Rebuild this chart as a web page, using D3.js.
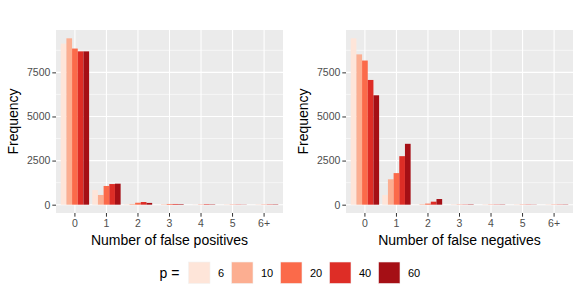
<!DOCTYPE html>
<meta charset="utf-8">
<script src="https://d3js.org/d3.v7.min.js"></script>
<style>
  body { margin: 0; background: #fff; }
  text { font-family: "Liberation Sans", Arial, sans-serif; }
</style>
<div id="my_dataviz"></div>
<script>
// categories and series
var counts = ["0", "1", "2", "3", "4", "5", "6+"];
var pValues = ["6", "10", "20", "40", "60"];
var colors = ["#FEE5D9", "#FCAE91", "#FB6A4A", "#DE2D26", "#A50F15"];

// frequencies, one array per p (order follows counts)
var falsePos = {
  "6":  [9130, 830, 30, 5, 0, 5, 5],
  "10": [9430, 550, 40, 20, 5, 10, 10],
  "20": [8850, 1060, 110, 40, 15, 15, 15],
  "40": [8690, 1170, 150, 40, 30, 15, 20],
  "60": [8690, 1190, 100, 30, 20, 10, 20]
};
var falseNeg = {
  "6":  [9430, 550, 10, 5, 0, 5, 5],
  "10": [8520, 1440, 30, 10, 10, 10, 10],
  "20": [8170, 1790, 60, 15, 15, 15, 15],
  "40": [7070, 2750, 170, 15, 15, 15, 15],
  "60": [6200, 3450, 320, 20, 15, 10, 15]
};
var yTicks = [0, 2500, 5000, 7500];

var W = 581, H = 291;
var top_ = 30, bottom_ = 213;

var svg = d3.select("#my_dataviz")
  .append("svg")
    .attr("width", W)
    .attr("height", H);

var allVals = [];
pValues.forEach(function(p) { allVals = allVals.concat(falsePos[p], falseNeg[p]); });
var ymax = d3.max(allVals);
var y = d3.scaleLinear()
    .domain([-0.05 * ymax, ymax * 1.05])
    .range([bottom_, top_]);

var color = d3.scaleOrdinal().domain(pValues).range(colors);

function panel(x0, x1, data, title) {
  var g = svg.append("g");

  var x = d3.scaleBand()
      .domain(counts)
      .range([x0, x1])
      .paddingInner(0)
      .paddingOuter(0.1);

  var xs = d3.scaleBand()
      .domain(pValues)
      .range([x.bandwidth() * 0.05, x.bandwidth() * 0.95]);

  // background
  g.append("rect")
    .attr("x", x0).attr("y", top_)
    .attr("width", x1 - x0).attr("height", bottom_ - top_)
    .attr("fill", "#EBEBEB");

  // minor grid
  var minor = [];
  for (var i = 0; i < yTicks.length; i++) minor.push(yTicks[i] + 1250);
  g.append("g").selectAll("line")
    .data(minor.filter(function(v) { return y(v) > top_; }))
    .enter().append("line")
      .attr("x1", x0).attr("x2", x1)
      .attr("y1", function(d) { return y(d); })
      .attr("y2", function(d) { return y(d); })
      .attr("stroke", "#fff").attr("stroke-width", 0.55);

  // major grid
  g.append("g").selectAll("line")
    .data(yTicks)
    .enter().append("line")
      .attr("x1", x0).attr("x2", x1)
      .attr("y1", function(d) { return y(d); })
      .attr("y2", function(d) { return y(d); })
      .attr("stroke", "#fff").attr("stroke-width", 1.1);
  g.append("g").selectAll("line")
    .data(counts)
    .enter().append("line")
      .attr("y1", top_).attr("y2", bottom_)
      .attr("x1", function(d) { return x(d) + x.bandwidth() / 2; })
      .attr("x2", function(d) { return x(d) + x.bandwidth() / 2; })
      .attr("stroke", "#fff").attr("stroke-width", 1.1);

  // bars
  var rows = [];
  pValues.forEach(function(p) {
    counts.forEach(function(c, j) { rows.push({p: p, c: c, v: data[p][j]}); });
  });
  g.append("g").selectAll("rect")
    .data(rows)
    .enter().append("rect")
      .attr("x", function(d) { return x(d.c) + xs(d.p); })
      .attr("width", xs.bandwidth())
      .attr("y", function(d) { return y(d.v); })
      .attr("height", function(d) { return y(0) - y(d.v); })
      .attr("fill", function(d) { return color(d.p); });

  // y axis
  var ya = g.append("g")
    .attr("transform", "translate(" + x0 + ",0)")
    .call(d3.axisLeft(y).tickValues(yTicks).tickFormat(d3.format("d")).tickSize(3.7).tickPadding(2));
  ya.select(".domain").remove();
  ya.selectAll("line").attr("stroke", "#333");
  ya.selectAll("text").attr("fill", "#4D4D4D").style("font-size", "10.5px")
    .style("font-family", "Liberation Sans, Arial, sans-serif");

  // x axis
  var xa = g.append("g")
    .attr("transform", "translate(0," + bottom_ + ")")
    .call(d3.axisBottom(x).tickSize(3.7).tickPadding(3));
  xa.select(".domain").remove();
  xa.selectAll("line").attr("stroke", "#333");
  xa.selectAll("text").attr("fill", "#4D4D4D").style("font-size", "10.5px")
    .style("font-family", "Liberation Sans, Arial, sans-serif");

  // titles
  g.append("text")
    .attr("x", (x0 + x1) / 2).attr("y", 245)
    .attr("text-anchor", "middle")
    .style("font-size", "14px")
    .text(title);
  g.append("text")
    .attr("transform", "translate(" + (x0 - 38) + "," + ((top_ + bottom_) / 2) + ") rotate(-90)")
    .attr("text-anchor", "middle")
    .style("font-size", "14px")
    .text("Frequency");
}

panel(56, 283, falsePos, "Number of false positives");
panel(346, 573, falseNeg, "Number of false negatives");

// legend
var leg = svg.append("g");
leg.append("text")
  .attr("x", 159.5).attr("y", 277.5)
  .style("font-size", "14px")
  .text("p =");
var keyX = d3.scaleOrdinal().domain(pValues).range([188.5, 231.5, 280.5, 329.5, 378.5]);
leg.selectAll("rect")
  .data(pValues)
  .enter().append("rect")
    .attr("x", function(d) { return keyX(d); })
    .attr("y", 262)
    .attr("width", 21.5).attr("height", 21.5)
    .attr("fill", function(d) { return color(d); })
    .attr("stroke", "#F2F2F2").attr("stroke-width", 0.6);
leg.selectAll("text.lab")
  .data(pValues)
  .enter().append("text")
    .attr("class", "lab")
    .attr("x", function(d) { return keyX(d) + 29.5; })
    .attr("y", 276.5)
    .style("font-size", "11px")
    .text(function(d) { return d; });
</script>
